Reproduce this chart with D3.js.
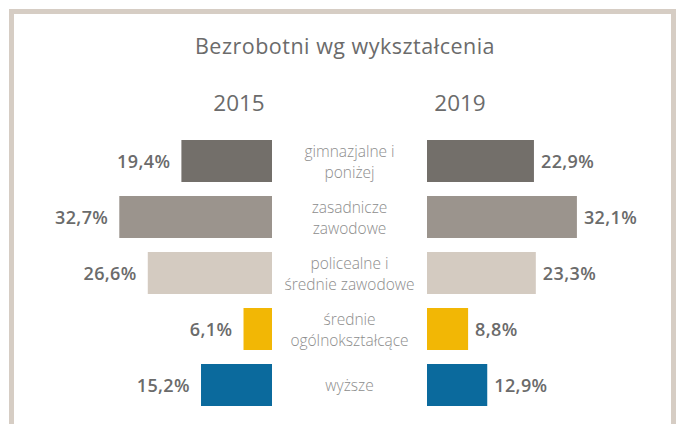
<!DOCTYPE html>
<html>
<head>
<meta charset="utf-8">
<script src="https://cdn.jsdelivr.net/npm/d3@7"></script>
<style>
  html, body { margin: 0; padding: 0; background: #ffffff; }
  svg { display: block; }
</style>
</head>
<body>
<svg id="chart" width="678" height="424"></svg>
<script>
// ---- data ----
const title = "Bezrobotni wg wykształcenia";
const years = ["2015", "2019"];
const categories = [
  "gimnazjalne i poniżej",
  "zasadnicze zawodowe",
  "policealne i średnie zawodowe",
  "średnie ogólnokształcące",
  "wyższe"
];
const categoryLines = [
  ["gimnazjalne i", "poniżej"],
  ["zasadnicze", "zawodowe"],
  ["policealne i", "średnie zawodowe"],
  ["średnie", "ogólnokształcące"],
  ["wyższe"]
];
const values2015 = [19.4, 32.7, 26.6, 6.1, 15.2];
const values2019 = [22.9, 32.1, 23.3, 8.8, 12.9];
const colors = ["#736f6a", "#9b948d", "#d4cbc1", "#f2b705", "#0b6a9d"];

// ---- layout ----
const W = 678, H = 424;
const svg = d3.select("#chart");
const font = "'Open Sans', 'DejaVu Sans', sans-serif";
const textColor = "#6b6b6b";

// frame
svg.append("rect")
  .attr("x", 11.5).attr("y", 11.5)
  .attr("width", 662).attr("height", 440)
  .attr("fill", "none")
  .attr("stroke", "#d6cdc4")
  .attr("stroke-width", 5);

svg.append("text")
  .attr("x", 345).attr("y", 54)
  .attr("text-anchor", "middle")
  .attr("font-family", font)
  .attr("font-size", 21.5)
  .attr("letter-spacing", 0.5)
  .attr("fill", textColor)
  .text(title);

const yearX = [239, 460];
svg.selectAll("text.year").data(years).join("text")
  .attr("class", "year")
  .attr("x", (d, i) => yearX[i]).attr("y", 111)
  .attr("text-anchor", "middle")
  .attr("font-family", font)
  .attr("font-size", 22.5)
  .attr("fill", textColor)
  .text(d => d);

const y = d3.scaleBand().domain(categories).range([133, 413])
  .paddingInner(0.25).paddingOuter(0.125);
const x = d3.scaleLinear().domain([0, 35]).range([0, 163.45]);

const leftEdge = 272, rightEdge = 427;
const color = d3.scaleOrdinal().domain(categories).range(colors);

const rows = categories.map((c, i) => ({c, i, v15: values2015[i], v19: values2019[i]}));

// left bars (2015)
svg.selectAll("rect.left").data(rows).join("rect")
  .attr("class", "left")
  .attr("x", d => leftEdge - x(d.v15))
  .attr("y", d => y(d.c))
  .attr("width", d => x(d.v15))
  .attr("height", y.bandwidth())
  .attr("fill", d => color(d.c));

// right bars (2019)
svg.selectAll("rect.right").data(rows).join("rect")
  .attr("class", "right")
  .attr("x", rightEdge)
  .attr("y", d => y(d.c))
  .attr("width", d => x(d.v19))
  .attr("height", y.bandwidth())
  .attr("fill", d => color(d.c));

const fmt = v => d3.format(".1f")(v).replace(".", ",") + "%";

svg.selectAll("text.v15").data(rows).join("text")
  .attr("class", "v15")
  .attr("x", d => leftEdge - x(d.v15) - 11)
  .attr("y", d => y(d.c) + y.bandwidth() / 2 + 7)
  .attr("text-anchor", "end")
  .attr("font-family", font)
  .attr("font-weight", 600)
  .attr("font-size", 18)
  .attr("letter-spacing", 0.4)
  .attr("fill", textColor)
  .text(d => fmt(d.v15));

svg.selectAll("text.v19").data(rows).join("text")
  .attr("class", "v19")
  .attr("x", d => rightEdge + x(d.v19) + 7)
  .attr("y", d => y(d.c) + y.bandwidth() / 2 + 7)
  .attr("text-anchor", "start")
  .attr("font-family", font)
  .attr("font-weight", 600)
  .attr("font-size", 18)
  .attr("letter-spacing", 0.4)
  .attr("fill", textColor)
  .text(d => fmt(d.v19));

// category labels
const labels = svg.selectAll("text.cat").data(rows).join("text")
  .attr("class", "cat")
  .attr("text-anchor", "middle")
  .attr("font-family", font)
  .attr("font-weight", 300)
  .attr("font-size", 15.5)
  .attr("fill", "#8d8d8d");
labels.each(function(d) {
  const lines = categoryLines[d.i];
  const cy = y(d.c) + y.bandwidth() / 2;
  d3.select(this).selectAll("tspan").data(lines).join("tspan")
    .attr("x", 349.5)
    .attr("y", (l, j) => cy + 6 + (j - (lines.length - 1) / 2) * 21)
    .text(l => l);
});
</script>
</body>
</html>
